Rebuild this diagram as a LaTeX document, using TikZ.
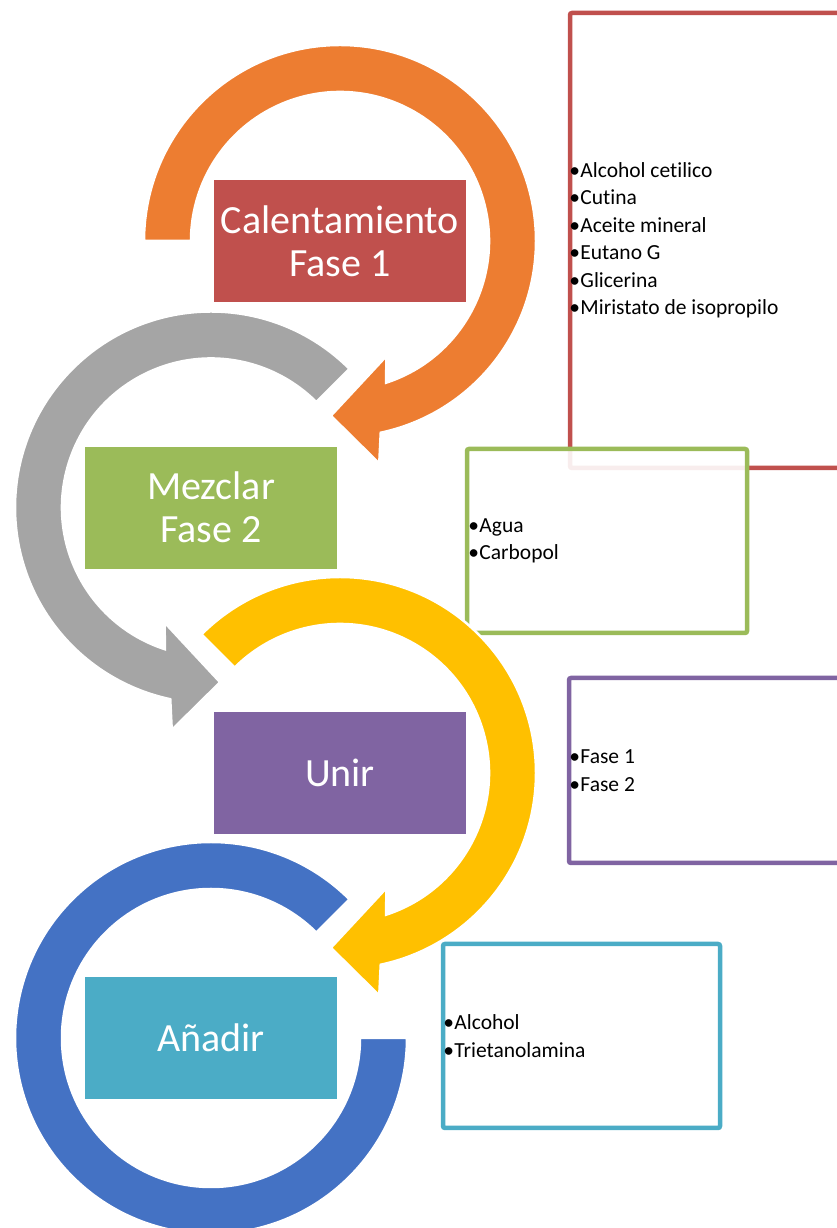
\documentclass[tikz,border=0pt]{standalone}
\usepackage{fontspec}
\setmainfont{Carlito}[Ligatures={NoCommon}]
\usetikzlibrary{positioning}
\definecolor{arcorange}{RGB}{237,125,49}
\definecolor{arcgrey}{RGB}{165,165,165}
\definecolor{arcyellow}{RGB}{255,192,0}
\definecolor{arcblue}{RGB}{68,114,196}
\definecolor{boxred}{RGB}{192,80,77}
\definecolor{boxgreen}{RGB}{155,187,89}
\definecolor{boxpurple}{RGB}{128,100,162}
\definecolor{boxcyan}{RGB}{75,172,198}
\newcommand{\itm}[1]{\makebox[11pt][l]{•}#1}

\begin{document}
\begin{tikzpicture}[
    x=1pt, y=1pt,
    stage/.style={rectangle, draw=white, line width=0.8pt, text=white,
        minimum width=253, minimum height=123, inner sep=2pt, align=center,
        font=\fontsize{40}{43}\selectfont},
    listbox/.style={rectangle, rounded corners=2pt, line width=4.5pt,
        fill=white, fill opacity=0.9, minimum width=280, minimum height=184},
    items/.style={anchor=west, inner sep=0pt, align=left,
        font=\fontsize{21.5}{27.5}\selectfont},
    ring/.style={draw=white, line width=2.5pt},
]
\useasboundingbox (0,0) rectangle (837,1228);
\clip (0,0) rectangle (837,1228);

% ====== LIST BOXES ======
\node[listbox, draw=boxred, minimum height=455] (red-box) at (710,987.5) {};
\node[items] (red-txt) at ([xshift=1.5]red-box.west)
    {\itm{Alcohol cetilico}\\ \itm{Cutina}\\ \itm{Aceite mineral}\\
     \itm{Eutano G}\\ \itm{Glicerina}\\ \itm{Miristato de isopropilo}};

\node[listbox, draw=boxgreen] (green-box) at (607,687) {};
\node[items] (green-txt) at ([xshift=3.5]green-box.west)
    {\itm{Agua}\\ \itm{Carbopol}};

\node[listbox, draw=boxpurple, minimum height=185] (purple-box) at (709,457.5) {};
\node[items] (purple-txt) at ([xshift=2.5]purple-box.west)
    {\itm{Fase 1}\\ \itm{Fase 2}};

\node[listbox, draw=boxcyan, minimum width=277] (cyan-box) at (581.5,192) {};
\node[items] (cyan-txt) at ([xshift=2.5]cyan-box.west)
    {\itm{Alcohol}\\ \itm{Trietanolamina}};

% ====== STAGES ======
\node[stage, fill=boxred]    (cal)    at (340,987)   {Calentamiento\\Fase 1};
\node[stage, fill=boxgreen]  (mez)    at (211,720.5) {Mezclar\\Fase 2};
\node[stage, fill=boxpurple] (unir)   at (340,455)   {Unir};
\node[stage, fill=boxcyan]   (anadir) at (211,190)   {Añadir};

% ====== RINGS ======
\begin{scope}[shift={(cal.center)}]
    \filldraw[ring, fill=arcorange] (180:196)
        arc[start angle=180, end angle=-78, radius=196]
        -- (-80:226) -- (-93:175) -- (-68:124) -- (-72:149)
        arc[start angle=-72, end angle=180, radius=149] -- cycle;
\end{scope}

\begin{scope}[shift={(mez.center)}]
    \filldraw[ring, fill=arcgrey] (45:196)
        arc[start angle=45, end angle=258, radius=196]
        -- (260:226) -- (273:175) -- (248:124) -- (252:149)
        arc[start angle=252, end angle=45, radius=149] -- cycle;
\end{scope}

\begin{scope}[shift={(unir.center)}]
    \filldraw[ring, fill=arcyellow] (135:196)
        arc[start angle=135, end angle=-78, radius=196]
        -- (-80:226) -- (-93:175) -- (-68:124) -- (-72:149)
        arc[start angle=-72, end angle=135, radius=149] -- cycle;
\end{scope}

\begin{scope}[shift={(anadir.center)}]
    \filldraw[ring, fill=arcblue] (45:196)
        arc[start angle=45, end angle=360, radius=196]
        -- (0:149)
        arc[start angle=360, end angle=45, radius=149] -- cycle;
\end{scope}

\end{tikzpicture}
\end{document}
